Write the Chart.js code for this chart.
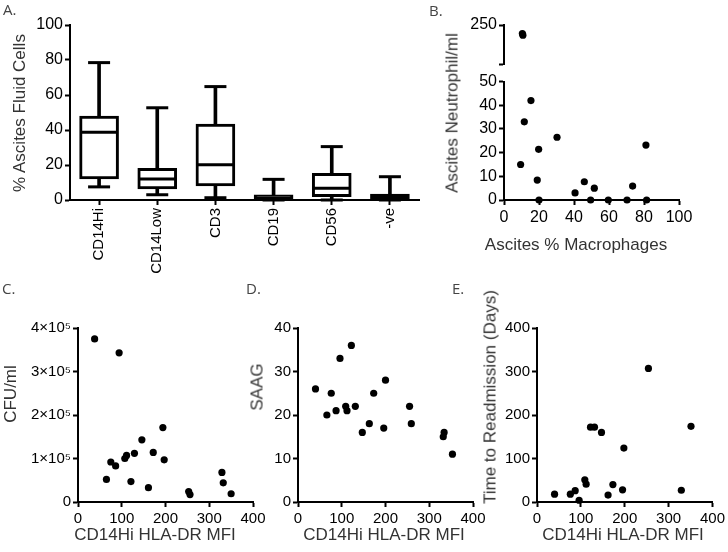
<!DOCTYPE html>
<html>
<head>
<meta charset="utf-8">
<script src="https://cdn.jsdelivr.net/npm/chart.js@4/dist/chart.umd.min.js"></script>
<style>
  html, body { margin: 0; padding: 0; background: #fff; }
  #wrap { position: relative; width: 728px; height: 552px; background: #fff; overflow: hidden; }
  canvas { position: absolute; }
  .lbl { position: absolute; font-family: 'Open Sans', sans-serif; font-size: 15px; color: #444; line-height: 1; }
  .ttl { position: absolute; font-family: 'Liberation Sans', Arial, sans-serif; font-size: 17px; color: #333; white-space: nowrap; line-height: 1; transform: translate(-50%, -50%); }
  .rot { transform: translate(-50%, -50%) rotate(-90deg); }
</style>
</head>
<body>
<div id="wrap">
  <canvas id="cA" width="440" height="290" style="left:0;top:0"></canvas>
  <canvas id="cBt" width="288" height="80" style="left:440px;top:0"></canvas>
  <canvas id="cBb" width="288" height="220" style="left:440px;top:70px"></canvas>
  <canvas id="cC" width="270" height="252" style="left:0;top:300px"></canvas>
  <canvas id="cD" width="260" height="252" style="left:230px;top:300px"></canvas>
  <canvas id="cE" width="258" height="252" style="left:470px;top:300px"></canvas>

  <div class="lbl" style="left:3px;top:2px">A.</div>
  <div class="lbl" style="left:429px;top:3px">B.</div>
  <div class="lbl" style="left:2px;top:281px">C.</div>
  <div class="lbl" style="left:246px;top:281px">D.</div>
  <div class="lbl" style="left:452px;top:281px">E.</div>

  <div class="ttl rot" style="left:19px;top:113px">% Ascites Fluid Cells</div>
  <div class="ttl rot" style="left:452px;top:113px">Ascites Neutrophil/ml</div>
  <div class="ttl" style="left:576px;top:244px">Ascites % Macrophages</div>
  <div class="ttl rot" style="left:10px;top:394px">CFU/ml</div>
  <div class="ttl" style="left:155px;top:534px">CD14Hi HLA-DR MFI</div>
  <div class="ttl rot" style="left:257px;top:387px">SAAG</div>
  <div class="ttl" style="left:384px;top:534px">CD14Hi HLA-DR MFI</div>
  <div class="ttl rot" style="left:490px;top:397px">Time to Readmission (Days)</div>
  <div class="ttl" style="left:623px;top:534px">CD14Hi HLA-DR MFI</div>
</div>
<script>
// ---------- DATA ----------
// Panel A: box plots (% Ascites Fluid Cells)
const boxCategories = ['CD14Hi', 'CD14Low', 'CD3', 'CD19', 'CD56', '-ve'];
const boxMin    = [7.5, 3, 1.3, 0, 0, 0];
const boxQ1     = [12, 6.3, 8, 0.5, 1.9, 0.6];
const boxMedian = [38.7, 12, 20.2, 1.2, 6.7, 1.6];
const boxQ3     = [48, 18.1, 43.4, 2.9, 15.2, 3.4];
const boxMax    = [78.5, 52.7, 64.8, 11.8, 30.5, 13.3];

// Panel B: Ascites % Macrophages vs Ascites Neutrophil/ml
const macrophagePct = [10.5, 10.8, 15.4, 11.6, 30.3, 19.8, 9.5, 19, 20, 40.6, 45.9, 51.6, 49.5, 59.6, 70.3, 73.5, 81.1, 81.5];
const neutrophilMl  = [239, 237, 42, 33, 26.5, 21.4, 15, 8.4, 0, 3, 7.7, 5, 0, 0, 0, 5.9, 23.2, 0];

// Panel C: CD14Hi HLA-DR MFI vs CFU/ml
const mfiC = [38, 65, 75, 86, 94, 107, 111, 121, 129, 146, 161, 172, 194, 197, 253, 256, 329, 332, 350];
const cfuMl = [375000, 52000, 92000, 83000, 343000, 100000, 107000, 47000, 112000, 143000, 33000, 114000, 171000, 97000, 24000, 17000, 68000, 44000, 19000];

// Panel D: CD14Hi HLA-DR MFI vs SAAG
const mfiD = [40, 66, 76, 87, 96, 109, 112, 122, 131, 147, 163, 173, 196, 200, 255, 259, 332, 334, 353];
const saag = [26, 20, 25, 21, 33, 22, 21, 36, 22, 16, 18, 25, 17, 28, 22, 18, 15, 16, 11];

// Panel E: CD14Hi HLA-DR MFI vs Time to Readmission (Days)
const mfiE = [40, 76, 87, 96, 109, 112, 122, 131, 147, 162, 173, 195, 198, 254, 329, 351];
const readmitDays = [18, 18, 26, 4, 51, 41, 172, 172, 160, 16, 40, 28, 124, 307, 27, 174];

// ---------- STYLE HELPERS ----------
const FONT_FAMILY = "'Liberation Sans', Arial, sans-serif";
const FONT_TOP = { family: FONT_FAMILY, size: 16 };
const FONT_BOTTOM = { family: FONT_FAMILY, size: 15 };
const BLACK = '#000';

function gridCfg() {
  return { display: true, drawOnChartArea: false, drawTicks: true, tickLength: 5, tickWidth: 2, tickColor: BLACK, offset: false };
}
function borderCfg() { return { display: true, color: BLACK, width: 2 }; }

function linY(min, max, step, width, font, cb) {
  return {
    type: 'linear', position: 'left', min, max,
    afterFit: s => { s.width = width; },
    border: borderCfg(), grid: gridCfg(),
    ticks: { stepSize: step, color: BLACK, font, padding: 2, callback: cb || (v => v) }
  };
}
function linX(min, max, step, height, font) {
  return {
    type: 'linear', position: 'bottom', min, max,
    afterFit: s => { s.height = height; },
    border: borderCfg(), grid: gridCfg(),
    ticks: { stepSize: step, color: BLACK, font, padding: 3, maxRotation: 0, autoSkip: false }
  };
}
function pts(xs, ys, filter) {
  const out = [];
  for (let i = 0; i < xs.length; i++) if (!filter || filter(ys[i])) out.push({ x: xs[i], y: ys[i] });
  return out;
}
function dotDataset(data) {
  return { data, backgroundColor: BLACK, borderWidth: 0, pointRadius: 3.6, pointHoverRadius: 3.6, clip: false };
}
const baseOpts = {
  responsive: false, animation: false, devicePixelRatio: 1,
  plugins: { legend: { display: false }, tooltip: { enabled: false } },
  events: []
};
function opts(extra) { return Object.assign({}, baseOpts, extra); }

// ---------- PANEL A ----------
new Chart(document.getElementById('cA'), {
  type: 'bar',
  data: {
    labels: boxCategories,
    datasets: [
      { type: 'line', data: boxMedian, showLine: false, pointStyle: 'line', pointRadius: 18, pointBorderWidth: 3, pointBorderColor: BLACK, order: 0, clip: false },
      { type: 'line', data: boxMax, showLine: false, pointStyle: 'line', pointRadius: 11, pointBorderWidth: 3, pointBorderColor: BLACK, order: 1, clip: false },
      { type: 'line', data: boxMin, showLine: false, pointStyle: 'line', pointRadius: 11, pointBorderWidth: 3, pointBorderColor: BLACK, order: 1, clip: false },
      { type: 'bar', data: boxQ1.map((q, i) => [q, boxQ3[i]]), grouped: false, barThickness: 39, backgroundColor: '#fff', borderColor: BLACK, borderWidth: 3, borderSkipped: false, order: 2, clip: false },
      { type: 'bar', data: boxMin.map((m, i) => [m, boxQ1[i]]), grouped: false, barThickness: 3, backgroundColor: BLACK, borderWidth: 0, order: 3, clip: false },
      { type: 'bar', data: boxQ3.map((q, i) => [q, boxMax[i]]), grouped: false, barThickness: 3, backgroundColor: BLACK, borderWidth: 0, order: 3, clip: false }
    ]
  },
  options: opts({
    layout: { padding: { top: 25, right: 20, bottom: 0, left: 0 } },
    scales: {
      x: {
        type: 'category', offset: true,
        afterFit: s => { s.height = 90; },
        border: borderCfg(), grid: gridCfg(),
        ticks: { color: BLACK, font: FONT_BOTTOM, padding: 3, minRotation: 90, maxRotation: 90, autoSkip: false }
      },
      y: linY(0, 100, 20, 70, FONT_TOP)
    }
  })
});

// ---------- PANEL B (broken y axis) ----------
new Chart(document.getElementById('cBt'), {
  type: 'scatter',
  data: { datasets: [dotDataset(pts(macrophagePct, neutrophilMl, v => v > 50))] },
  options: opts({
    layout: { padding: { top: 25, right: 49, bottom: 16, left: 0 } },
    scales: {
      x: { type: 'linear', min: 0, max: 100, display: false },
      y: linY(200, 250, 50, 64, FONT_TOP, v => (v === 250 ? '250' : ''))
    }
  })
});
new Chart(document.getElementById('cBb'), {
  type: 'scatter',
  data: { datasets: [dotDataset(pts(macrophagePct, neutrophilMl, v => v <= 50))] },
  options: opts({
    layout: { padding: { top: 11, right: 49, bottom: 0, left: 0 } },
    scales: {
      x: linX(0, 100, 20, 90, FONT_TOP),
      y: linY(0, 50, 10, 64, FONT_TOP)
    }
  })
});

// ---------- PANEL C ----------
new Chart(document.getElementById('cC'), {
  type: 'scatter',
  data: { datasets: [dotDataset(pts(mfiC, cfuMl))] },
  options: opts({
    layout: { padding: { top: 28, right: 17, bottom: 0, left: 0 } },
    scales: {
      x: linX(0, 400, 100, 50, FONT_BOTTOM),
      y: linY(0, 400000, 100000, 78, FONT_BOTTOM, v => (v === 0 ? '0' : (v / 100000) + '\u00d710\u2075'))
    }
  })
});

// ---------- PANEL D ----------
new Chart(document.getElementById('cD'), {
  type: 'scatter',
  data: { datasets: [dotDataset(pts(mfiD, saag))] },
  options: opts({
    layout: { padding: { top: 28, right: 17, bottom: 0, left: 0 } },
    scales: {
      x: linX(0, 400, 100, 50, FONT_BOTTOM),
      y: linY(0, 40, 10, 68, FONT_BOTTOM)
    }
  })
});

// ---------- PANEL E ----------
new Chart(document.getElementById('cE'), {
  type: 'scatter',
  data: { datasets: [dotDataset(pts(mfiE, readmitDays))] },
  options: opts({
    layout: { padding: { top: 28, right: 15, bottom: 0, left: 0 } },
    scales: {
      x: linX(0, 400, 100, 50, FONT_BOTTOM),
      y: linY(0, 400, 100, 67, FONT_BOTTOM)
    }
  })
});
</script>
</body>
</html>
